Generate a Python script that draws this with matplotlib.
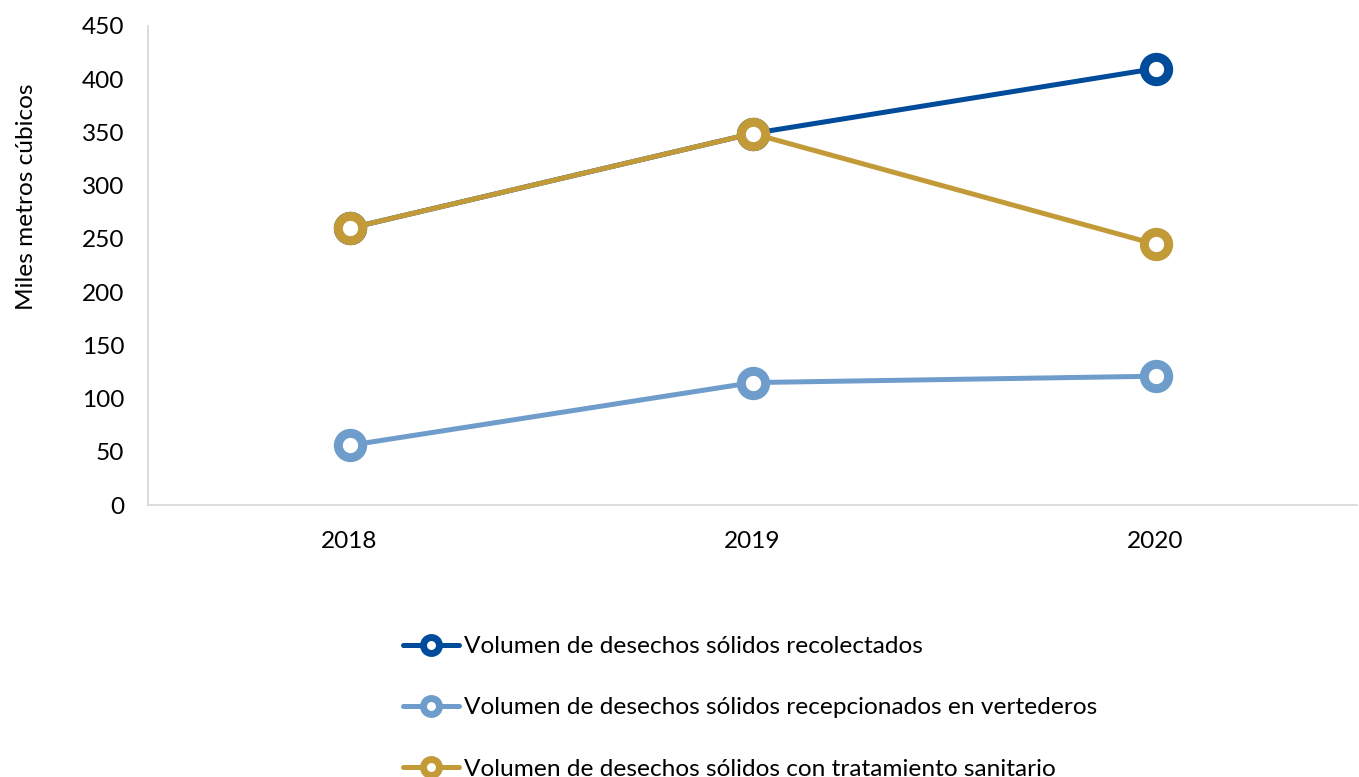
import matplotlib
matplotlib.use("Agg")
import matplotlib.pyplot as plt
from matplotlib.lines import Line2D

plt.rcParams['font.family'] = ['Lato', 'DejaVu Sans']

years = ["2018", "2019", "2020"]
recolectados = [260, 349, 410]
recepcionados = [56, 115, 121]
tratamiento = [260, 349, 245]
labels = ["Volumen de desechos sólidos recolectados",
          "Volumen de desechos sólidos recepcionados en vertederos",
          "Volumen de desechos sólidos con tratamiento sanitario"]
colors = ["#004C9B", "#6F9DCB", "#C29A38"]
yticks = list(range(0, 451, 50))

FS = 17.6

fig = plt.figure(figsize=(13.59, 7.77), dpi=100)
ax = fig.add_axes([148/1359, 1-505/777, (1357-148)/1359, (505-26)/777])

x = list(range(len(years)))
for vals, c in zip([recolectados, recepcionados, tratamiento], colors):
    ax.plot(x, vals, color=c, lw=3.6, marker='o', markersize=17.5,
            markeredgewidth=6.5, markerfacecolor='white', markeredgecolor=c,
            solid_capstyle='round', zorder=3)

ax.set_xlim(-0.5, 2.5)
ax.set_ylim(0, 450)
ax.set_xticks(x)
ax.set_xticklabels(years)
ax.set_yticks(yticks)
ax.tick_params(axis='both', length=0, labelsize=FS, colors='black')
ax.tick_params(axis='y', pad=17)
ax.tick_params(axis='x', pad=19)
for s in ['top', 'right']:
    ax.spines[s].set_visible(False)
for s in ['left', 'bottom']:
    ax.spines[s].set_color('#D9D9D9')
    ax.spines[s].set_linewidth(1.3)
fig.text(27/1359, 1-197/777, "Miles metros cúbicos", fontsize=FS, rotation=90,
         ha='center', va='center')

handles = [Line2D([0], [0], color=c, lw=3.6, marker='o', markersize=11.5,
                  markeredgewidth=5, markerfacecolor='white', markeredgecolor=c,
                  solid_capstyle='round') for c in colors]
fig.legend(handles, labels, loc='upper left', bbox_to_anchor=(403/1359, 1-636/777),
           frameon=False, fontsize=FS, handlelength=2.3, handletextpad=0.2,
           labelspacing=1.64, borderaxespad=0, borderpad=0)

fig.savefig("out.png", dpi=100)
